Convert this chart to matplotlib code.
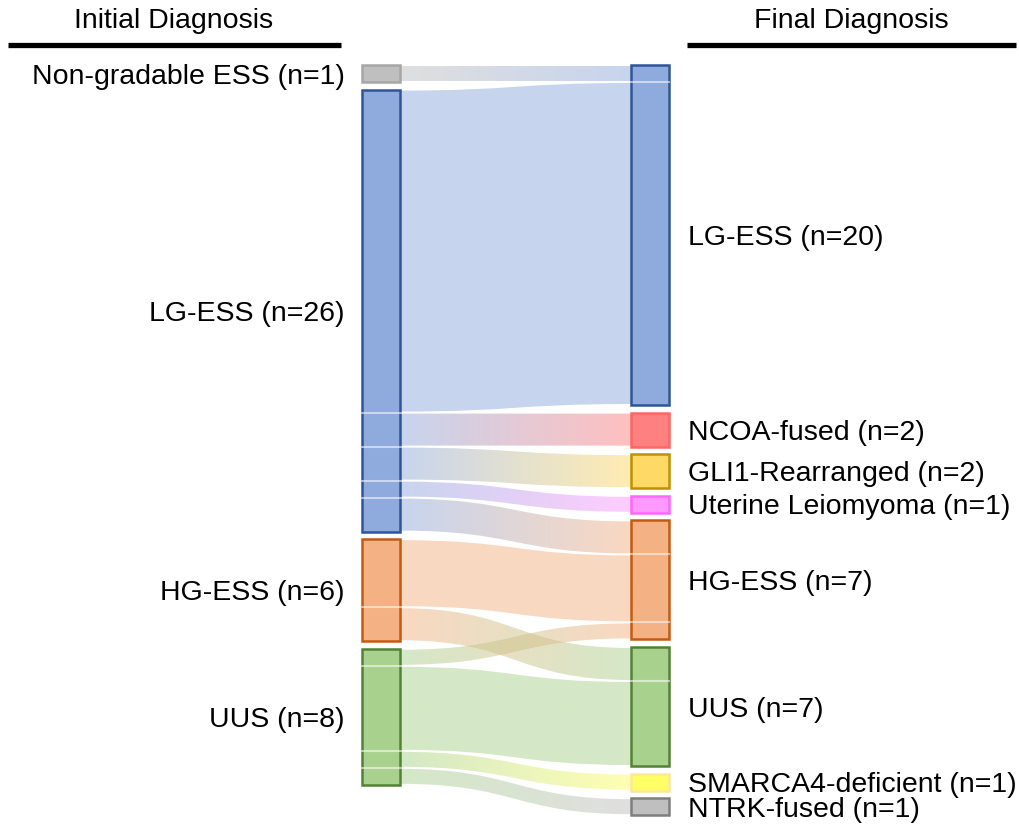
import numpy as np
import matplotlib.pyplot as plt
from matplotlib.path import Path
from matplotlib.patches import PathPatch, Rectangle
from matplotlib.colors import to_rgba

plt.rcParams['font.family'] = ['Liberation Sans', 'DejaVu Sans']

# nodes
left_names = ["Non-gradable ESS", "LG-ESS", "HG-ESS", "UUS"]
left_fill = ["#BFBFBF", "#8FAADC", "#F4B183", "#A9D18E"]
left_edge = ["#A6A6A6", "#2F5597", "#C55A11", "#538135"]

right_names = ["LG-ESS", "NCOA-fused", "GLI1-Rearranged", "Uterine Leiomyoma",
               "HG-ESS", "UUS", "SMARCA4-deficient", "NTRK-fused"]
right_fill = ["#8FAADC", "#FF8080", "#FFD966", "#FF99FF",
              "#F4B183", "#A9D18E", "#FFFF66", "#BFBFBF"]
right_edge = ["#2F5597", "#FF6666", "#BF9000", "#FF66FF",
              "#C55A11", "#538135", "#FFE699", "#7F7F7F"]

# flows (initial -> final)
flow_src = [0, 1, 1, 1, 1, 1, 2, 2, 3, 3, 3, 3]
flow_dst = [0, 0, 1, 2, 3, 4, 4, 5, 4, 5, 6, 7]
flow_val = [1, 19, 2, 2, 1, 2, 4, 2, 1, 5, 1, 1]

# layout (pixels)
scale = 17.0
top = 65
gap = 7.6
xl0, xl1 = 362, 400
xr0, xr1 = 631, 669

fig = plt.figure(figsize=(10.2, 8.27), dpi=100)
ax = fig.add_axes([0, 0, 1, 1])
ax.set_xlim(0, 1020)
ax.set_ylim(827, 0)
ax.axis('off')

left_tot = [sum(v for s, v in zip(flow_src, flow_val) if s == i) for i in range(len(left_names))]
right_tot = [sum(v for d, v in zip(flow_dst, flow_val) if d == i) for i in range(len(right_names))]

def stack(totals):
    ys = []
    y = top
    for t in totals:
        ys.append(y)
        y += t * scale + gap
    return ys

left_y = stack(left_tot)
right_y = stack(right_tot)

# offsets of each flow in its source and target node
order = sorted(range(len(flow_val)), key=lambda k: (flow_src[k], flow_dst[k]))
src_off = {}
cur = list(left_y)
for k in order:
    src_off[k] = cur[flow_src[k]]
    cur[flow_src[k]] += flow_val[k] * scale
order = sorted(range(len(flow_val)), key=lambda k: (flow_dst[k], flow_src[k]))
dst_off = {}
cur = list(right_y)
for k in order:
    dst_off[k] = cur[flow_dst[k]]
    cur[flow_dst[k]] += flow_val[k] * scale

inset = 1.0
xm = (xl1 + xr0) / 2
for k in range(len(flow_val)):
    h = flow_val[k] * scale
    a0, a1 = src_off[k] + inset, src_off[k] + h - inset
    b0, b1 = dst_off[k] + inset, dst_off[k] + h - inset
    verts = [(xl1, a0), (xm, a0), (xm, b0), (xr0, b0),
             (xr0, b1), (xm, b1), (xm, a1), (xl1, a1), (xl1, a0)]
    codes = [Path.MOVETO, Path.CURVE4, Path.CURVE4, Path.CURVE4,
             Path.LINETO, Path.CURVE4, Path.CURVE4, Path.CURVE4, Path.CLOSEPOLY]
    patch = PathPatch(Path(verts, codes), facecolor='none', edgecolor='none')
    ax.add_patch(patch)
    c0 = np.array(to_rgba(left_fill[flow_src[k]], 0.5))
    c1 = np.array(to_rgba(right_fill[flow_dst[k]], 0.5))
    t = np.linspace(0, 1, 256)[:, None]
    img = (c0 * (1 - t) + c1 * t)[None, :, :]
    ymin = min(a0, b0) - 2
    ymax = max(a1, b1) + 2
    im = ax.imshow(img, extent=(xl1, xr0, ymax, ymin), aspect='auto',
                   interpolation='bilinear', zorder=1)
    im.set_clip_path(patch)

ax.set_xlim(0, 1020)
ax.set_ylim(827, 0)

def draw_nodes(x0, x1, ys, tots, fills, edges):
    for y, t, f, e in zip(ys, tots, fills, edges):
        ax.add_patch(Rectangle((x0, y), x1 - x0, t * scale, facecolor=f,
                               edgecolor=e, linewidth=1.8, zorder=3))

draw_nodes(xl0, xl1, left_y, left_tot, left_fill, left_edge)
draw_nodes(xr0, xr1, right_y, right_tot, right_fill, right_edge)

# thin separators between flows inside nodes
for k in range(len(flow_val)):
    y = src_off[k]
    if y not in left_y:
        ax.plot([xl0, xl1 + 2], [y, y], color='white', alpha=0.55, lw=1.5, zorder=4)
    y = dst_off[k]
    if y not in right_y:
        ax.plot([xr0 - 2, xr1], [y, y], color='white', alpha=0.55, lw=1.5, zorder=4)

fs = 20.5
dy = 3
for name, y, t in zip(left_names, left_y, left_tot):
    ax.text(345, y + t * scale / 2 + dy, f"{name} (n={t})", ha='right', va='center', fontsize=fs)
for name, y, t in zip(right_names, right_y, right_tot):
    ax.text(688, y + t * scale / 2 + dy, f"{name} (n={t})", ha='left', va='center', fontsize=fs)

ax.text(174, 21, "Initial Diagnosis", ha='center', va='center', fontsize=fs)
ax.text(851, 21, "Final Diagnosis", ha='center', va='center', fontsize=fs)
ax.plot([8, 341], [45, 45], color='black', lw=3.8, solid_capstyle='butt')
ax.plot([687, 1016], [45, 45], color='black', lw=3.8, solid_capstyle='butt')

fig.savefig("out.png", dpi=100)
